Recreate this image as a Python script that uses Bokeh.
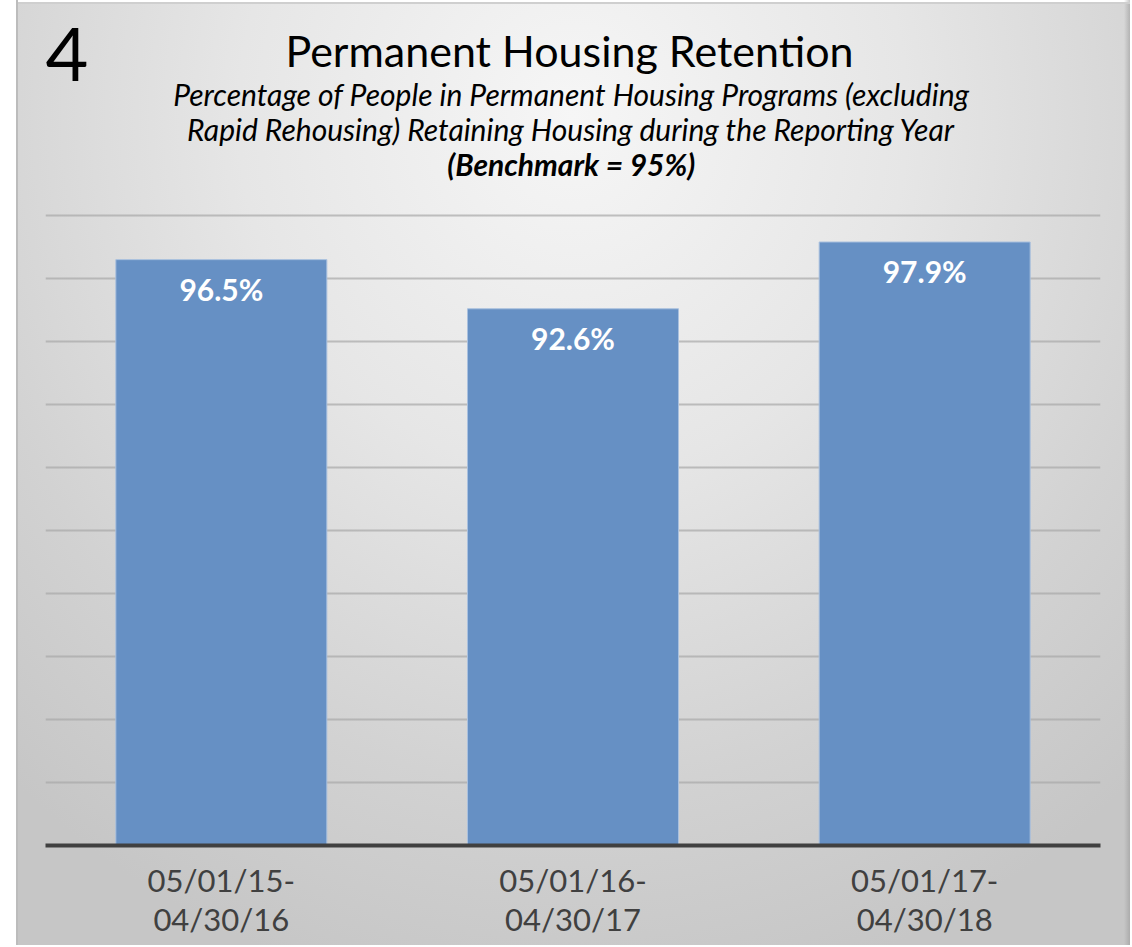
from bokeh.plotting import figure
from bokeh.models import Range1d, FixedTicker, Label, InlineStyleSheet, ColumnDataSource
from bokeh.core.properties import value
from bokeh.embed import file_html
from bokeh.resources import INLINE

categories = ["05/01/15-\n04/30/16", "05/01/16-\n04/30/17", "05/01/17-\n04/30/18"]
values = [96.5, 92.6, 97.9]
value_labels = ["96.5%", "92.6%", "97.9%"]
grid_ticks = [55, 60, 65, 70, 75, 80, 85, 90, 95, 100]

title_text = "Permanent Housing Retention"
subtitle_1 = "Percentage of People in Permanent Housing Programs (excluding"
subtitle_2 = "Rapid Rehousing) Retaining Housing during the Reporting Year"
subtitle_3 = "(Benchmark = 95%)"
chart_number = "4"

FONT = "Lato"

src = ColumnDataSource(dict(cat=categories, val=values, lab=value_labels))

# frame extends above the plotted area so that the heading texts live inside it
p = figure(x_range=categories, y_range=Range1d(50, 116.75), width=1130, height=945,
           output_backend="svg", toolbar_location=None,
           min_border_left=45, min_border_right=30, min_border_top=4, min_border_bottom=100)
p.background_fill_color = None
p.border_fill_color = None
p.outline_line_color = None
p.x_range.range_padding = 0

p.stylesheets = [InlineStyleSheet(css="""
:host {
  background:
    linear-gradient(#bcbcbc, #bcbcbc) 16px 0 / 2px 100% no-repeat,
    linear-gradient(#cfcfcf, #cfcfcf) 16px 2px / calc(100% - 16px) 2px no-repeat,
    linear-gradient(to left, rgba(150,150,150,0.55), rgba(150,150,150,0)) 100% 0 / 6px 100% no-repeat,
    radial-gradient(ellipse 75% 95% at 50% 12%, #f6f6f6 0%, #e6e6e6 40%, #d2d2d2 75%, #c6c6c6 100%) 16px 2px / calc(100% - 16px) 100% no-repeat,
    #ffffff;
}
""")]

p.vbar(x="cat", top="val", bottom=50, width=0.6, source=src,
       fill_color="#6690c4", line_color="#a9c0de", line_width=1)

p.text(x="cat", y="val", text="lab", source=src, text_align="center", text_baseline="middle",
       y_offset=29, text_color="white", text_font=value(FONT), text_font_style="bold",
       text_font_size="30px")

p.yaxis.visible = False
p.ygrid.ticker = FixedTicker(ticks=grid_ticks)
p.ygrid.grid_line_color = "#a8a8a8"
p.ygrid.grid_line_alpha = 0.7
p.ygrid.grid_line_width = 2
p.xgrid.visible = False

ax = p.xaxis[0]
ax.axis_line_color = "#404040"
ax.axis_line_width = 4
ax.major_tick_line_color = None
ax.minor_tick_line_color = None
ax.major_label_text_font = FONT
ax.major_label_text_font_size = "31px"
ax.major_label_text_color = "#404040"
ax.major_label_text_line_height = 1.05
ax.major_label_standoff = 9

def lab(text, x, y, size, style="normal", align="center", font=FONT):
    p.add_layout(Label(x=x, y=y, x_units="data", y_units="data", text=text,
                       text_align=align, text_baseline="alphabetic", text_font=font,
                       text_font_size=size, text_font_style=style, text_color="black"))

lab(title_text, 1.49, 113.10, "43px")
lab(subtitle_1, 1.495, 109.68, "30px", "italic")
lab(subtitle_2, 1.495, 106.90, "30px", "italic")
lab(subtitle_3, 1.495, 104.12, "30px", "bold italic")
lab(chart_number, 0.0, 112.78, "74px", "normal", "left", FONT)

open("out.html", "w").write(file_html(p, INLINE))
